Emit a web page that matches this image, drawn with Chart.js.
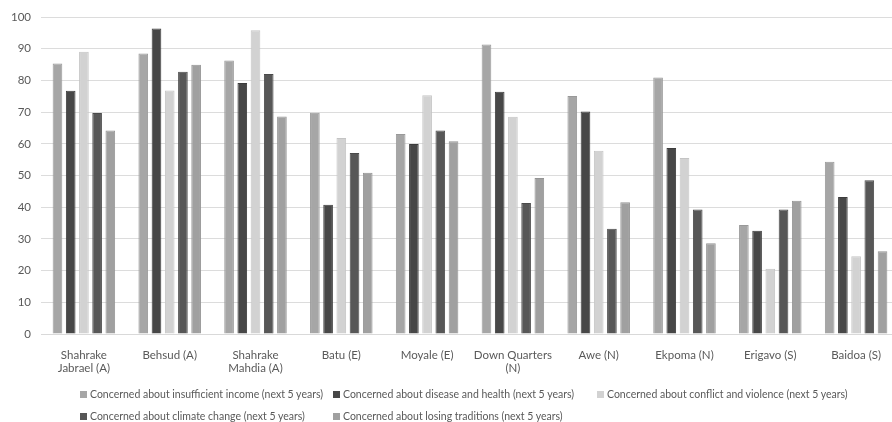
<!DOCTYPE html>
<html>
<head>
<meta charset="utf-8">
<script src="https://cdn.jsdelivr.net/npm/chart.js@4/dist/chart.umd.min.js"></script>
<style>
    html, body { margin: 0; padding: 0; background: #fff; overflow: hidden; }
    #wrap { position: relative; width: 900px; height: 422px; }
    #legend { position: absolute; left: 0; top: 0; width: 892px; height: 422px; pointer-events: none;
        font-family: Lato, "Liberation Sans", sans-serif; font-size: 10.5px; color: #595959; }
    #legend .item { position: absolute; white-space: nowrap; line-height: 12px; }
    #legend .box { display: inline-block; width: 7px; height: 7px; margin-right: 3px; vertical-align: 0px; }
</style>
</head>
<body>
<div id="wrap">
    <canvas id="concernChart" width="900" height="422"></canvas>
    <div id="legend"></div>
</div>
<script>
const sites = [["Shahrake", "Jabrael (A)"], "Behsud (A)", ["Shahrake", "Mahdia (A)"], "Batu (E)", "Moyale (E)",
    ["Down Quarters", "(N)"], "Awe (N)", "Ekpoma (N)", "Erigavo (S)", "Baidoa (S)"];

const income = [85.3, 88.5, 86.3, 69.8, 63.1, 91.3, 75.1, 80.9, 34.4, 54.3];
const disease = [76.7, 96.4, 79.2, 40.8, 59.9, 76.4, 70.2, 58.7, 32.6, 43.2];
const conflict = [89.0, 76.8, 95.8, 61.8, 75.3, 68.5, 57.8, 55.5, 20.6, 24.5];
const climate = [69.7, 82.7, 82.0, 57.1, 64.2, 41.3, 33.2, 39.3, 39.3, 48.5];
const traditions = [64.2, 84.9, 68.6, 50.9, 60.8, 49.2, 41.6, 28.6, 42.0, 26.1];

const seriesNames = [
    "Concerned about insufficient income (next 5 years)",
    "Concerned about disease and health (next 5 years)",
    "Concerned about conflict and violence (next 5 years)",
    "Concerned about climate change (next 5 years)",
    "Concerned about losing traditions (next 5 years)"
];
const yTicks = [0, 10, 20, 30, 40, 50, 60, 70, 80, 90, 100];

const fills = ["#a6a6a6", "#474747", "#d2d2d2", "#575757", "#a0a0a0"];
const edges = ["#999999", "#3c3c3c", "#c4c4c4", "#4a4a4a", "#939393"];

function makeSet(i, values) {
    return {
        label: seriesNames[i],
        data: values,
        backgroundColor: fills[i],
        borderColor: edges[i],
        borderWidth: 1,
        categoryPercentage: 0.77,
        barPercentage: 0.73
    };
}

const ctx = document.getElementById("concernChart");
const chart = new Chart(ctx, {
    type: "bar",
    data: {
        labels: sites,
        datasets: [makeSet(0, income), makeSet(1, disease), makeSet(2, conflict), makeSet(3, climate), makeSet(4, traditions)]
    },
    options: {
        responsive: false,
        animation: false,
        layout: { padding: { top: 17, right: 1, bottom: 38, left: 0 } },
        plugins: {
            legend: { display: false },
            tooltip: { enabled: false }
        },
        scales: {
            x: {
                grid: { display: false },
                border: { display: true, color: "#d9d9d9", width: 1 },
                ticks: {
                    color: "#595959",
                    font: { family: "Lato, 'Liberation Sans', sans-serif", size: 11.5 },
                    maxRotation: 0,
                    autoSkip: false,
                    padding: 6
                },
                afterFit: s => { s.height = 50; }
            },
            y: {
                min: 0,
                max: 100,
                afterBuildTicks: s => { s.ticks = yTicks.map(v => ({ value: v })); },
                grid: { color: "#dcdcdc", lineWidth: 1, drawTicks: false },
                border: { display: false },
                ticks: {
                    color: "#595959",
                    font: { family: "Lato, 'Liberation Sans', sans-serif", size: 11.5 },
                    padding: 10
                },
                afterFit: s => { s.width = 41; }
            }
        }
    }
});

// legend laid out in columns, like a spreadsheet legend
const legendSpots = [[80, 388], [333, 388], [597, 388], [80, 410], [333, 410]];
const legendBox = document.getElementById("legend");
chart.data.datasets.forEach((ds, i) => {
    const el = document.createElement("div");
    el.className = "item";
    el.style.left = legendSpots[i][0] + "px";
    el.style.top = legendSpots[i][1] + "px";
    el.innerHTML = '<span class="box" style="background:' + ds.backgroundColor + '"></span>';
    el.appendChild(document.createTextNode(ds.label));
    legendBox.appendChild(el);
});
</script>
</body>
</html>
